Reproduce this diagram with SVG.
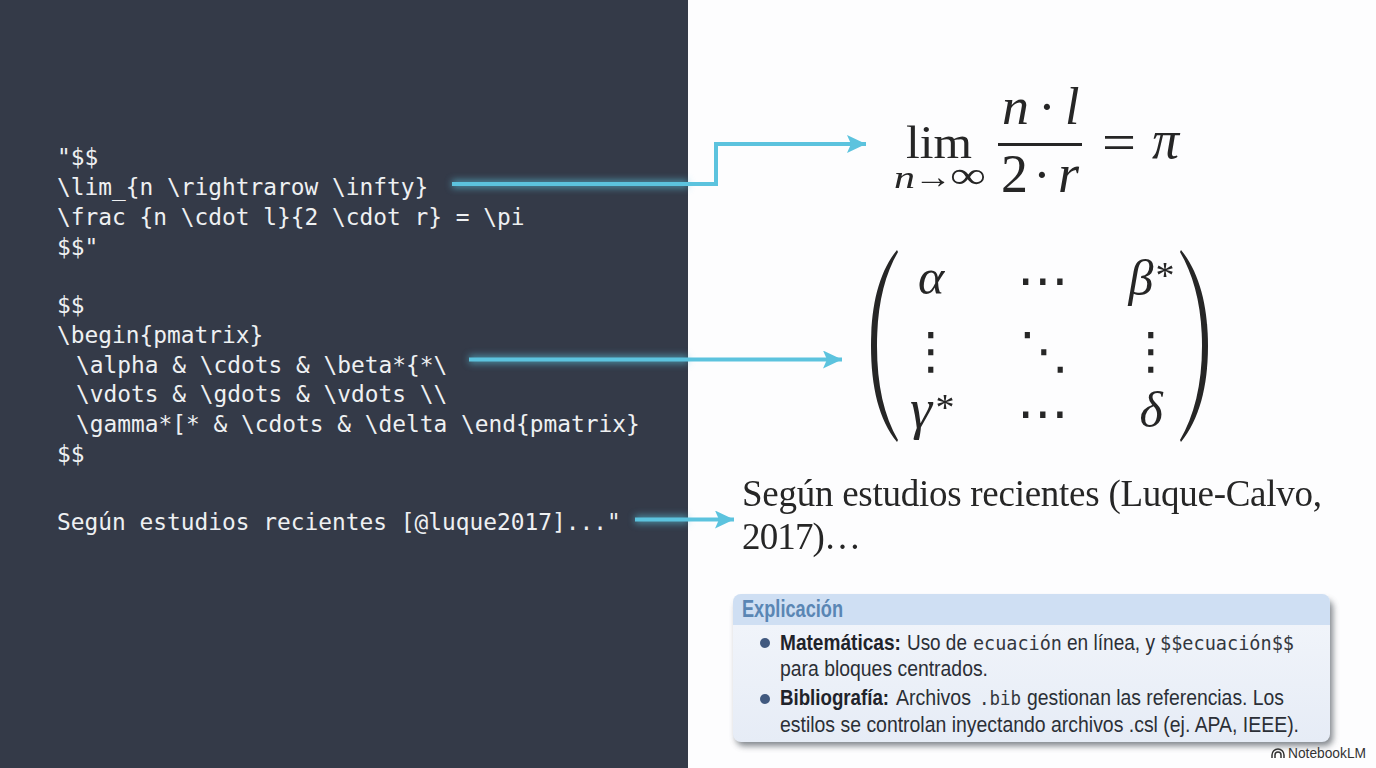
<svg xmlns="http://www.w3.org/2000/svg" width="1376" height="768" viewBox="0 0 1376 768">
<style>
.code{font-family:"DejaVu Sans Mono",monospace;font-size:22.85px;fill:#eef0f2}
.ser{font-family:"Liberation Serif",serif;font-size:37px;fill:#262626}
.m{font-family:"Liberation Serif",serif;font-style:italic;fill:#262626}
.r{font-family:"Liberation Serif",serif;fill:#262626}
.d{font-family:"DejaVu Sans",sans-serif;fill:#262626;text-anchor:middle}
.b{font-family:"Liberation Sans",sans-serif;font-size:22px;fill:#2b2f36}
.bb{font-weight:700;fill:#1f232a}
.mono{font-family:"DejaVu Sans Mono",monospace;font-size:19px;fill:#33373e}
.line{fill:none;stroke:#5cc3de;stroke-width:4}
.glow{fill:none;stroke:#5cc3de;stroke-width:8;opacity:.6}
</style>
<defs>
<filter id="glow" filterUnits="userSpaceOnUse" x="0" y="0" width="1376" height="768"><feGaussianBlur stdDeviation="3.500"/></filter>
<filter id="sh" x="-5%" y="-10%" width="110%" height="125%"><feGaussianBlur stdDeviation="3"/></filter>
<linearGradient id="body" x1="0" y1="0" x2="0" y2="1"><stop offset="0" stop-color="#f3f6fb"/><stop offset="1" stop-color="#e6ecf6"/></linearGradient>
<marker id="ah" markerUnits="userSpaceOnUse" markerWidth="20" markerHeight="20" refX="19" refY="9" orient="auto"><path d="M0 0L19 9L0 18L4 9Z" fill="#5cc3de"/></marker>
</defs>
<rect width="1376" height="768" fill="#fdfdfe"/>
<rect id="panel" width="688" height="768" fill="#343a48"/>
<g id="code-limit" class="code">
<text x="57" y="165">"$$</text>
<text x="57" y="195">\lim_{n \rightrarow \infty}</text>
<text x="57" y="225">\frac {n \cdot l}{2 \cdot r} = \pi</text>
<text x="57" y="255">$$"</text>
</g>
<g id="code-matrix" class="code">
<text x="57" y="313">$$</text>
<text x="57" y="343">\begin{pmatrix}</text>
<text x="76" y="373">\alpha &amp; \cdots &amp; \beta*{*\</text>
<text x="76" y="402">\vdots &amp; \gdots &amp; \vdots \\</text>
<text x="76" y="432">\gamma*[* &amp; \cdots &amp; \delta \end{pmatrix}</text>
<text x="57" y="462">$$</text>
</g>
<g id="code-cite" class="code"><text x="57" y="530">Según estudios recientes [@luque2017]..."</text></g>
<g id="connectors">
<g filter="url(#glow)">
<path class="glow" d="M452 184H688"/>
<path class="glow" d="M469 359.500H688"/>
<path class="glow" d="M635 519.500H688"/>
</g>
<path class="line" d="M452 184H716V144H866" marker-end="url(#ah)"/>
<path class="line" d="M469 359.500H842" marker-end="url(#ah)"/>
<path class="line" d="M635 519.500H734" marker-end="url(#ah)"/>
</g>
<g id="formula-limit">
<text class="r" x="906" y="158" font-size="46" textLength="66" lengthAdjust="spacingAndGlyphs">lim</text>
<text class="m" x="894" y="188" font-size="32" textLength="21" lengthAdjust="spacingAndGlyphs">n</text>
<text class="r" x="914" y="188" font-size="34" textLength="38" lengthAdjust="spacingAndGlyphs">→</text>
<text class="r" x="950" y="188" font-size="38" textLength="36" lengthAdjust="spacingAndGlyphs">∞</text>
<text class="m" x="1002" y="124" font-size="52" textLength="27" lengthAdjust="spacingAndGlyphs">n</text>
<text class="r" x="1047" y="124" font-size="52" text-anchor="middle">·</text>
<text class="m" x="1065" y="124" font-size="52">l</text>
<rect x="998" y="143" width="84" height="3" fill="#262626"/>
<text class="r" x="1001" y="192" font-size="54">2</text>
<text class="r" x="1042" y="192" font-size="52" text-anchor="middle">·</text>
<text class="m" x="1058" y="192" font-size="54">r</text>
<text class="r" x="1102" y="160" font-size="52" textLength="34" lengthAdjust="spacingAndGlyphs">=</text>
<text class="m" x="1152" y="158" font-size="54">π</text>
</g>
<g id="formula-matrix">
<path d="M897 250C879 272 871 305 871 346C871 387 879 420 897 442L898 440C884 416 877 385 877 346C877 307 884 276 898 252Z" fill="#262626"/>
<path d="M1181 250C1199 272 1208 305 1208 346C1208 387 1199 420 1181 442L1180 440C1194 416 1202 385 1202 346C1202 307 1194 276 1180 252Z" fill="#262626"/>
<text class="m" x="931" y="294" font-size="50" text-anchor="middle">α</text>
<text class="d" x="1043" y="298" font-size="52">⋯</text>
<text class="m" x="1141" y="295" font-size="50" text-anchor="middle">β</text>
<text class="r" x="1165" y="288" font-size="38" text-anchor="middle">*</text>
<text class="m" x="921" y="428" font-size="56" text-anchor="middle">γ</text>
<text class="r" x="945" y="420" font-size="38" text-anchor="middle">*</text>
<text class="d" x="931" y="368" font-size="50">⋮</text>
<text class="d" x="1044" y="368" font-size="50">⋱</text>
<text class="d" x="1151" y="368" font-size="50">⋮</text>
<text class="d" x="1043" y="431" font-size="52">⋯</text>
<text class="m" x="1151" y="427" font-size="50" text-anchor="middle">δ</text>
</g>
<g id="citation">
<text class="ser" x="742" y="506" textLength="580">Según estudios recientes (Luque-Calvo,</text>
<text class="ser" x="742" y="549" textLength="119">2017)…</text>
</g>
<g id="explanation">
<rect x="736" y="600" width="597" height="146" rx="8" fill="#5a6068" opacity=".75" filter="url(#sh)"/>
<rect x="733" y="594" width="597" height="148" rx="8" fill="url(#body)"/>
<path d="M733 625V602a8 8 0 0 1 8-8H1322a8 8 0 0 1 8 8V625Z" fill="#cfdff3"/>
<text x="742" y="617" font-family="Liberation Sans,sans-serif" font-weight="700" font-size="23" fill="#5a86b4" textLength="101" lengthAdjust="spacingAndGlyphs">Explicación</text>
<circle cx="765" cy="643" r="5" fill="#41597f"/>
<text class="b bb" transform="translate(780 650) scale(.868 1)">Matemáticas:</text>
<text class="b" transform="translate(907 650) scale(.86 1)">Uso de</text>
<text class="mono" x="973" y="650" textLength="89" lengthAdjust="spacingAndGlyphs">ecuación</text>
<text class="b" transform="translate(1067 650) scale(.867 1)">en línea, y</text>
<text class="mono" x="1160" y="650" textLength="134" lengthAdjust="spacingAndGlyphs">$$ecuación$$</text>
<text class="b" x="780" y="676" textLength="208" lengthAdjust="spacingAndGlyphs">para bloques centrados.</text>
<circle cx="765" cy="699" r="5" fill="#41597f"/>
<text class="b bb" transform="translate(780 705) scale(.85 1)">Bibliografía:</text>
<text class="b" transform="translate(896 705) scale(.89 1)">Archivos</text>
<text class="mono" x="979" y="705" textLength="42" lengthAdjust="spacingAndGlyphs">.bib</text>
<text class="b" x="1027" y="705" textLength="257" lengthAdjust="spacingAndGlyphs">gestionan las referencias. Los</text>
<text class="b" x="780" y="732" textLength="519" lengthAdjust="spacingAndGlyphs">estilos se controlan inyectando archivos .csl (ej. APA, IEEE).</text>
</g>
<g id="brand">
<path d="M1272 758v-3a6 6 0 0 1 12 0v3M1275 758v-3a3 3 0 0 1 6 0v3" fill="none" stroke="#333" stroke-width="1.500"/>
<text x="1288" y="758" font-family="Liberation Sans,sans-serif" font-size="14" fill="#333" textLength="78" lengthAdjust="spacingAndGlyphs">NotebookLM</text>
</g>
</svg>
